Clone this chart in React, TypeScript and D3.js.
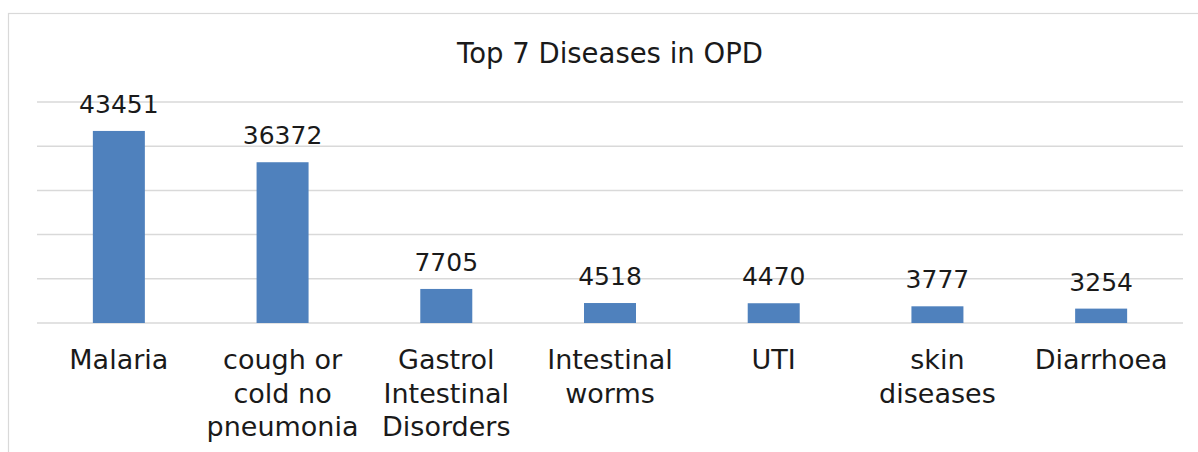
import React from "react";
import * as d3 from "d3";

const categories = [
  "Malaria",
  "cough or cold no pneumonia",
  "Gastrol Intestinal Disorders",
  "Intestinal worms",
  "UTI",
  "skin diseases",
  "Diarrhoea",
];
const categoryLines = [
  ["Malaria"],
  ["cough or", "cold no", "pneumonia"],
  ["Gastrol", "Intestinal", "Disorders"],
  ["Intestinal", "worms"],
  ["UTI"],
  ["skin", "diseases"],
  ["Diarrhoea"],
];
const values = [43451, 36372, 7705, 4518, 4470, 3777, 3254];
const yTicks = [0, 10000, 20000, 30000, 40000, 50000];
const title = "Top 7 Diseases in OPD";

const W = 1198;
const H = 452;
const FONT = "'DejaVu Sans', sans-serif";

export default function App() {
  const plotLeft = 37;
  const plotRight = 1183;
  const barW = 52;
  const step = (plotRight - plotLeft) / categories.length;
  const pi = 1 - barW / step;
  const x = d3
    .scaleBand<string>()
    .domain(categories)
    .range([plotLeft, plotRight])
    .paddingInner(pi)
    .paddingOuter(pi / 2);
  const y = d3.scaleLinear().domain([0, 50000]).range([323, 102]);

  return (
    <svg
      width={W}
      height={H}
      style={{ position: "absolute", left: 0, top: 0, background: "#fff" }}
      fontFamily={FONT}
    >
      <rect x={0} y={0} width={W} height={H} fill="#fff" />
      <rect
        x={8.5}
        y={13.5}
        width={W + 20}
        height={H + 20}
        fill="none"
        stroke="#d9d9d9"
        strokeWidth={1.2}
      />
      <text
        x={(plotLeft + plotRight) / 2}
        y={63}
        textAnchor="middle"
        fontSize={27.5}
        fill="#1a1a1a"
      >
        {title}
      </text>
      {yTicks.map((t) => (
        <line
          key={t}
          x1={plotLeft}
          x2={plotRight}
          y1={y(t)}
          y2={y(t)}
          stroke="#d9d9d9"
          strokeWidth={1.5}
        />
      ))}
      {categories.map((c, i) => {
        const bx = x(c)!;
        const cx = bx + x.bandwidth() / 2;
        return (
          <g key={c}>
            <rect
              x={bx}
              y={y(values[i])}
              width={x.bandwidth()}
              height={y(0) - y(values[i])}
              fill="#4f81bd"
            />
            <text
              x={cx}
              y={y(values[i]) - 18}
              textAnchor="middle"
              fontSize={25}
              fill="#1a1a1a"
            >
              {values[i]}
            </text>
            {categoryLines[i].map((ln, j) => (
              <text
                key={j}
                x={cx}
                y={369 + j * 33.5}
                textAnchor="middle"
                fontSize={27}
                fill="#1a1a1a"
              >
                {ln}
              </text>
            ))}
          </g>
        );
      })}
    </svg>
  );
}
